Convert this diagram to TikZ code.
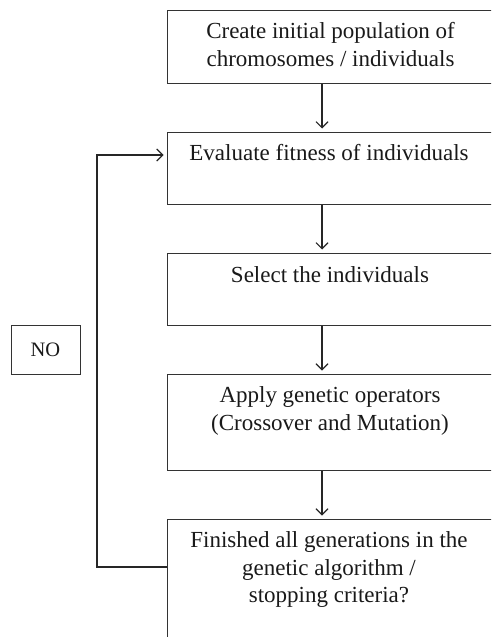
\documentclass[tikz,border=0pt]{standalone}
\usepackage{fontspec}
\setmainfont{Liberation Serif}
\usetikzlibrary{arrows.meta}
\begin{document}
\begin{tikzpicture}[x=1pt,y=-1pt,
  box/.style={draw=black!80,line width=1pt,rectangle,inner sep=0pt,anchor=north west,minimum width=327pt},
  lbl/.style={anchor=north,inner sep=0pt,align=center,font=\fontsize{23}{27.5}\selectfont,text=black!90},
  arr/.style={draw=black!85,line width=1.1pt,-{Straight Barb[length=6pt,width=12pt,line width=1.1pt]},shorten >=3.5pt}]
\useasboundingbox (0,0) rectangle (491,637);
\clip (0,0) rectangle (491,637);
\node[box,minimum height=73pt] (b1) at (167,10) {};
\node[box,minimum height=72pt] (b2) at (167,132) {};
\node[box,minimum height=72pt] (b3) at (167,253) {};
\node[box,minimum height=96pt] (b4) at (167,374) {};
\node[box,minimum height=150pt] (b5) at (167,519) {};
\node[lbl] (t1) at (330.5,22.5) {Create initial population of\\chromosomes / individuals};
\node[lbl] (t2) at (329,144.5) {Evaluate fitness of individuals};
\node[lbl] (t3) at (330,266) {Select the individuals};
\node[lbl] (t4) at (330,386.5) {Apply genetic operators\\(Crossover and Mutation)};
\node[lbl] (t5) at (329,531.5) {Finished all generations in the\\genetic algorithm /\\stopping criteria?};
\node[draw=black!80,line width=1pt,minimum width=69pt,minimum height=49pt,inner sep=0pt,font=\fontsize{20.5}{22}\selectfont,text=black!90] (no) at (45.5,349.5) {NO};
\coordinate (ax) at (322,0);
\draw[arr] (b1.south -| ax) -- (b2.north -| ax);
\draw[arr] (b2.south -| ax) -- (b3.north -| ax);
\draw[arr] (b3.south -| ax) -- (b4.north -| ax);
\draw[arr] (b4.south -| ax) -- (b5.north -| ax);
\coordinate (lx) at (97,567);
\coordinate (ly) at (0,155);
\draw[arr] (b5.west |- lx) -- (lx) |- (b2.west |- ly);
\end{tikzpicture}
\end{document}
